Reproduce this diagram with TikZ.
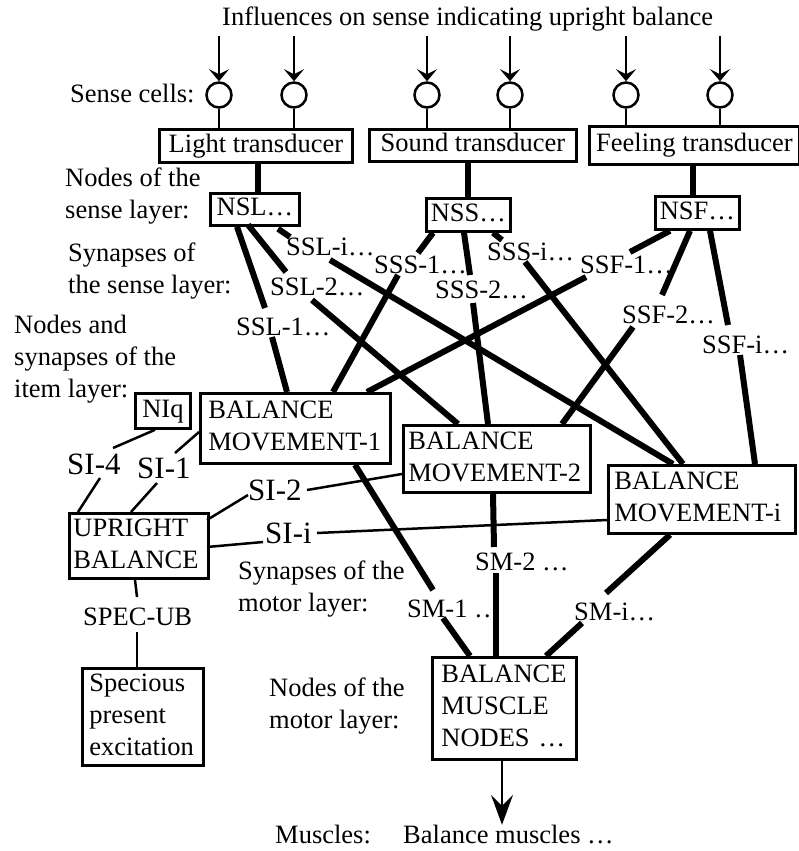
\documentclass[tikz,border=0pt]{standalone}
\usepackage{fontspec}
\setmainfont{Liberation Serif}
\usetikzlibrary{arrows.meta,calc}
\newcommand\lblfont{\fontsize{26.5}{32}\selectfont}
\newcommand\bigfont{\fontsize{31}{36}\selectfont}
\newcommand\nobreakstrut{\exhyphenpenalty=10000\relax\hyphenpenalty=10000\relax\strut}
\begin{document}
\begin{tikzpicture}[x=1pt,y=-1pt,
  every node/.style={font=\lblfont},
  lbl/.style={anchor=base west, inner sep=0pt},
  ml/.style={anchor=north west, align=left, inner sep=0pt, execute at begin node=\strut},
  big/.style={font=\bigfont},
  sbox/.style={draw, line width=2.8pt, anchor=north west, inner sep=0pt, align=center,
    execute at begin node=\strut, execute at end node=\strut},
  mbox/.style={draw, line width=2.8pt, anchor=north west, inner ysep=0pt, align=left,
    execute at begin node=\nobreakstrut, execute at end node=\strut},
  cell/.style={draw, circle, line width=2.5pt, minimum size=25pt, inner sep=0pt},
  syn/.style={line width=6pt},
  thin/.style={line width=2.5pt},
  inarr/.style={line width=2pt, -{Stealth[length=12pt,width=20pt,inset=5pt]}},
  outarr/.style={line width=2pt, -{Stealth[length=30pt,width=22pt,inset=11pt]}},
]
\useasboundingbox (0,0) rectangle (799,851);

% headings and layer captions
\node[lbl] (title) at (222,26) {Influences on sense indicating upright balance};
\node[lbl] (sensecells) at (70,102) {Sense cells:};
\node[ml] (nsllab) at (65,167.6) {Nodes of the\\sense layer:};
\node[ml] (synsl) at (68,242.6) {Synapses of\\the sense layer:};
\node[ml] (itemlab) at (14,314.6) {Nodes and\\synapses of the\\item layer:};
\node[ml] (synml) at (238,560.6) {Synapses of the\\motor layer:};
\node[ml] (nml) at (269,677.6) {Nodes of the\\motor layer:};
\node[lbl] (muslab) at (275,843) {Muscles:};
\node[lbl] (muscles) at (403,843) {Balance muscles …};

% transducers
\node[sbox, minimum width=193pt, minimum height=33pt] (lt) at (158,128) {Light transducer};
\node[sbox, minimum width=207pt, minimum height=32pt] (st) at (368,128) {Sound transducer};
\node[sbox, minimum width=210pt, minimum height=38pt] (ft) at (588,125) {Feeling transducer};

% sense cells with incoming influences
\foreach \i/\x in {1/219,2/294,3/427,4/510,5/626,6/720} {
  \node[cell] (c\i) at (\x,95) {};
  \coordinate (in\i) at (\x,36);
  \draw[inarr] (in\i) -- (c\i);
}
\draw[thin] (c1) -- (c1 |- lt.north);
\draw[thin] (c2) -- (c2 |- lt.north);
\draw[thin] (c3) -- (c3 |- st.north);
\draw[thin] (c4) -- (c4 |- st.north);
\draw[thin] (c5) -- (c5 |- ft.north);
\draw[thin] (c6) -- (c6 |- ft.north);

% nodes of the sense layer
\node[sbox, minimum width=89pt, minimum height=32pt] (nsl) at (209,192) {NSL…};
\node[sbox, minimum width=84pt, minimum height=33pt] (nss) at (425,197) {NSS…};
\node[sbox, minimum width=84pt, minimum height=33pt] (nsf) at (654,195) {NSF…};
\draw[syn] ($(nsl.north west)+(49,0)$) coordinate (lta) -- (lta |- lt.south);
\draw[syn] (nss.north) -- (nss.north |- st.south);
\draw[syn] ($(nsf.north west)+(39,0)$) coordinate (fta) -- (fta |- ft.south);

% item layer
\node[sbox, minimum width=55pt, minimum height=35pt] (niq) at (134,392) {NIq};
\node[mbox, minimum height=70pt, text width=174pt, inner xsep=8pt] (bm1) at (199,392) {BALANCE\\MOVEMENT-1};
\node[mbox, minimum height=67pt, text width=177pt, inner xsep=5pt] (bm2) at (402,424) {BALANCE\\MOVEMENT-2};
\node[mbox, minimum height=68pt, text width=175pt, inner xsep=6pt] (bmi) at (607,464) {BALANCE\\MOVEMENT-i};
\node[mbox, minimum height=65pt, text width=131pt, inner xsep=4pt] (ub) at (68,512) {UPRIGHT\\BALANCE};
\node[mbox, minimum height=97pt, text width=107pt, inner xsep=7pt] (spe) at (81,667) {Specious\\present\\excitation};

% motor layer
\node[mbox, minimum height=102pt, text width=126pt, inner xsep=9pt] (bmn) at (431,656) {BALANCE\\MUSCLE\\NODES …};
\coordinate (mus) at ($(bmn.south west)+(71,64)$);
\draw[outarr] ($(bmn.south west)+(71,0)$) -- (mus);

% synapse labels of the sense layer
\node[lbl] (ssl1) at (236,335) {SSL-1…};
\node[lbl] (ssl2) at (270,295) {SSL-2…};
\node[lbl] (ssli) at (286,255) {SSL-i…};
\node[lbl] (sss1) at (374,273) {SSS-1…};
\node[lbl] (sss2) at (435,298) {SSS-2…};
\node[lbl] (sssi) at (487,260) {SSS-i…};
\node[lbl] (ssf1) at (580,273) {SSF-1…};
\node[lbl] (ssf2) at (622,323) {SSF-2…};
\node[lbl] (ssfi) at (702,353) {SSF-i…};

% sense-layer synapses
\draw[syn] ($(nsl.south west)+(28,0)$) -- ($(ssl1.base west)+(29,-27)$);
\draw[syn] ($(ssl1.base west)+(36,2)$) -- ($(bm1.north west)+(88,0)$);
\draw[syn] ($(nsl.south west)+(39,-2)$) -- ($(ssl2.base west)+(16,-23)$);
\draw[syn] ($(ssl2.base west)+(42,5)$) -- ($(bm2.north west)+(56,0)$);
\draw[syn] ($(nsl.south west)+(69,2)$) -- ($(ssli.base west)+(4,-18)$);
\draw[syn] ($(ssli.base west)+(44,5)$) -- ($(bmi.north west)+(66,0)$);

\draw[syn] ($(nss.south west)+(8,0)$) -- ($(sss1.base west)+(44,-20)$);
\draw[syn] ($(sss1.base west)+(24,2)$) -- ($(bm1.north west)+(134,0)$);
\draw[syn] ($(nss.south west)+(39,0)$) -- ($(sss2.base west)+(35,-23)$);
\draw[syn] ($(sss2.base west)+(38,5)$) -- ($(bm2.north west)+(86,0)$);
\draw[syn] ($(nss.south west)+(68,0)$) -- ($(sssi.base west)+(15,-20)$);
\draw[syn] ($(sssi.base west)+(38,2)$) -- ($(bmi.north west)+(76,0)$);

\draw[syn] ($(nsf.south west)+(16,0)$) -- ($(ssf1.base west)+(50,-21)$);
\draw[syn] ($(ssf1.base west)+(6,4)$) -- ($(bm1.north west)+(168,0)$);
\draw[syn] ($(nsf.south west)+(36,0)$) -- ($(ssf2.base west)+(40,-28)$);
\draw[syn] ($(ssf2.base west)+(11,4)$) -- ($(bm2.north west)+(160,0)$);
\draw[syn] ($(nsf.south west)+(56,0)$) -- ($(ssfi.base west)+(26,-28)$);
\draw[syn] ($(ssfi.base west)+(38,2)$) -- ($(bmi.north west)+(148,0)$);

% item-layer synapses
\node[lbl, big] (si4) at (67,474) {SI-4};
\node[lbl, big] (si1) at (137,478) {SI-1};
\node[lbl, big] (si2) at (248,500) {SI-2};
\node[lbl, big] (sii) at (265,543) {SI-i};
\draw[thin] ($(niq.south west)+(21,0)$) -- ($(si4.base west)+(46,-26)$);
\draw[thin] ($(si4.base west)+(33,4)$) -- ($(ub.north west)+(10,0)$);
\draw[thin] ($(bm1.north west)+(0,40)$) -- ($(si1.base west)+(38,-25)$);
\draw[thin] ($(si1.base west)+(20,5)$) -- ($(ub.north west)+(63,0)$);
\draw[thin] ($(bm2.north west)+(0,50)$) -- ($(si2.base west)+(59,-10)$);
\draw[thin] ($(si2.base west)+(0,-5)$) -- ($(ub.north west)+(139,8)$);
\draw[thin] ($(bmi.north west)+(0,56)$) -- ($(sii.base west)+(52,-10)$);
\draw[thin] ($(sii.base west)+(-2,-1)$) -- ($(ub.north west)+(139,35)$);

% specious present
\node[lbl] (spec) at (83,625) {SPEC-UB};
\draw[thin] ($(ub.south west)+(67,0)$) -- ($(spec.base west)+(54,-28)$);
\draw[thin] ($(spec.base west)+(54,7)$) -- ($(spe.north west)+(56,0)$);

% motor-layer synapses
\node[lbl] (sm1) at (407,617) {SM-1 …};
\node[lbl] (sm2) at (475,570) {SM-2 …};
\node[lbl] (smi) at (574,620) {SM-i…};
\draw[syn] ($(bm1.south west)+(156,0)$) -- ($(sm1.base west)+(26,-27)$);
\draw[syn] ($(sm1.base west)+(36,1)$) -- ($(bmn.north west)+(39,0)$);
\draw[syn] ($(bm2.south west)+(91,0)$) -- ($(sm2.base west)+(19,-23)$);
\draw[syn] ($(sm2.base west)+(21,3)$) -- ($(bmn.north west)+(65,0)$);
\draw[syn] ($(bmi.south west)+(63,0)$) -- ($(smi.base west)+(32,-27)$);
\draw[syn] ($(smi.base west)+(8,3)$) -- ($(bmn.north west)+(115,0)$);
\end{tikzpicture}
\end{document}
